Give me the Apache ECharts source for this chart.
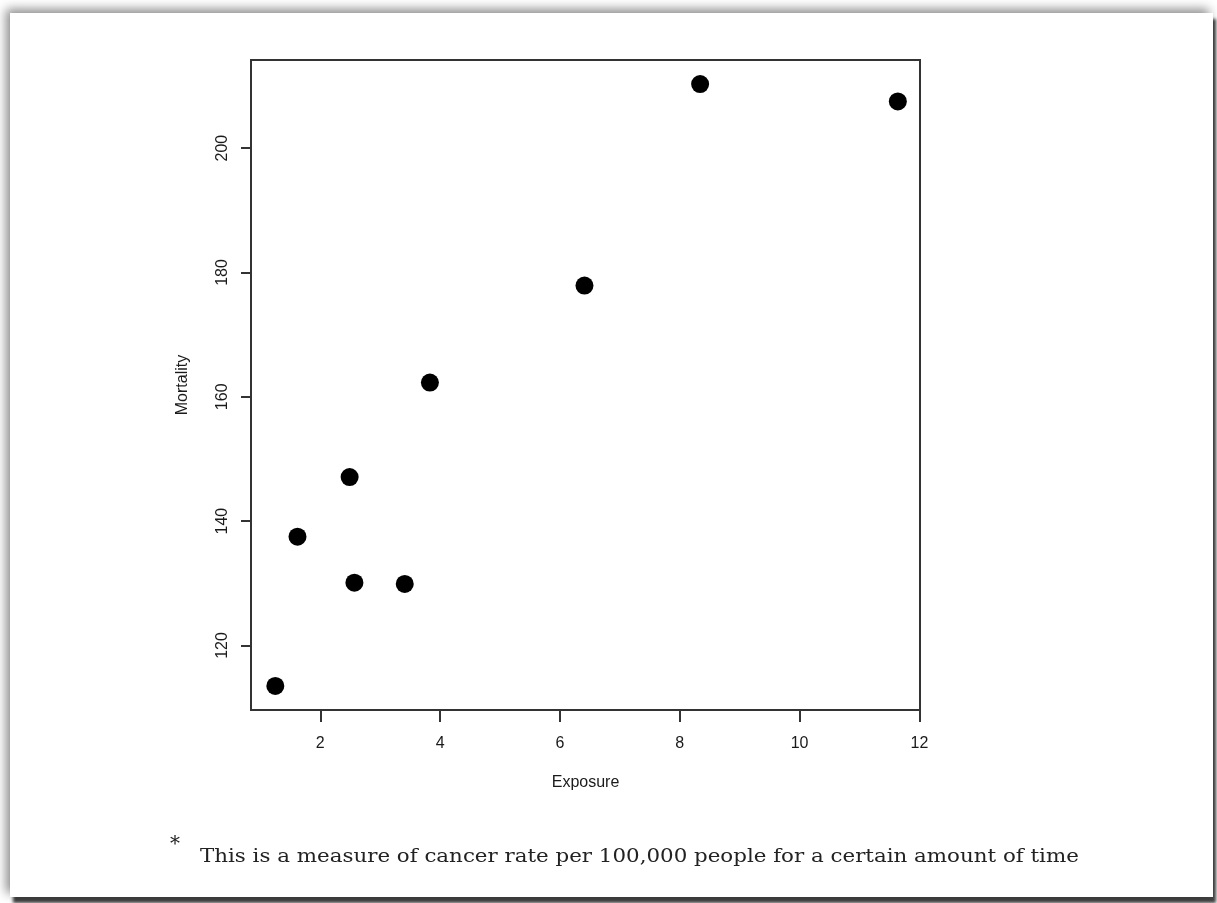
<!DOCTYPE html>
<html>
<head>
<meta charset="utf-8">
<script src="https://cdn.jsdelivr.net/npm/echarts@6/dist/echarts.min.js"></script>
<style>
  html, body { margin: 0; padding: 0; background: #fff; }
  #page {
    position: absolute; left: 10px; top: 13px; width: 1203px; height: 884px;
    background: #fff;
    box-shadow: -4px -4px 10px rgba(0,0,0,0.45), 3px 6px 3px rgba(0,0,0,0.75);
  }
  #main { position: absolute; left: 0; top: 0; width: 1217px; height: 903px; }
</style>
</head>
<body>
<div id="page"></div>
<div id="main"></div>
<script>
// exposure index vs cancer mortality (per 100,000)
var exposure = [8.34, 6.41, 2.49, 3.41, 1.25, 1.62, 3.83, 11.64, 2.57];
var mortality = [210.3, 177.9, 147.1, 129.9, 113.5, 137.5, 162.3, 207.5, 130.1];
var xTicks = [2, 4, 6, 8, 10, 12];
var yTicks = [120, 140, 160, 180, 200];
var footnote = 'This is a measure of cancer rate per 100,000 people for a certain amount of time';

var points = exposure.map(function (x, i) { return [x, mortality[i]]; });

var axisFont = { fontFamily: 'Liberation Sans, Arial, sans-serif', fontSize: 16, color: '#1a1a1a' };

echarts.init(document.getElementById('main')).setOption({
    backgroundColor: 'transparent',
    animation: false,
    grid: {
        left: 251, top: 60, right: 297, bottom: 193,
        show: true, borderColor: '#333', borderWidth: 2, backgroundColor: 'transparent'
    },
    xAxis: {
        type: 'value',
        min: 0.844, max: 12.01,
        name: 'Exposure', nameLocation: 'middle', nameGap: 65,
        nameTextStyle: axisFont,
        axisLine: { show: false },
        axisTick: { show: true, length: 12, lineStyle: { color: '#333', width: 2 }, customValues: xTicks },
        axisLabel: Object.assign({ margin: 26, customValues: xTicks }, axisFont),
        splitLine: { show: false }
    },
    yAxis: {
        type: 'value',
        min: 109.63, max: 214.17,
        name: 'Mortality', nameLocation: 'middle', nameGap: 60,
        nameTextStyle: axisFont,
        axisLine: { show: false },
        axisTick: { show: true, length: 10, lineStyle: { color: '#333', width: 2 }, customValues: yTicks },
        axisLabel: Object.assign({ margin: 20, rotate: 90, customValues: yTicks }, axisFont),
        splitLine: { show: false }
    },
    graphic: [
        { type: 'text', left: 170, top: 835,
          style: { text: '*', font: '20px "DejaVu Serif", serif', fill: '#222' } },
        // footnote is set in a wide TeX face, so stretch a bit
        { type: 'text', left: 200, top: 848, scaleX: 1.125,
          style: { text: footnote, font: '19px "DejaVu Serif", serif', fill: '#222' } }
    ],
    series: [{
        type: 'scatter',
        data: points,
        symbol: 'circle',
        symbolSize: 18,
        itemStyle: { color: '#000', opacity: 1 }
    }]
});
</script>
</body>
</html>
